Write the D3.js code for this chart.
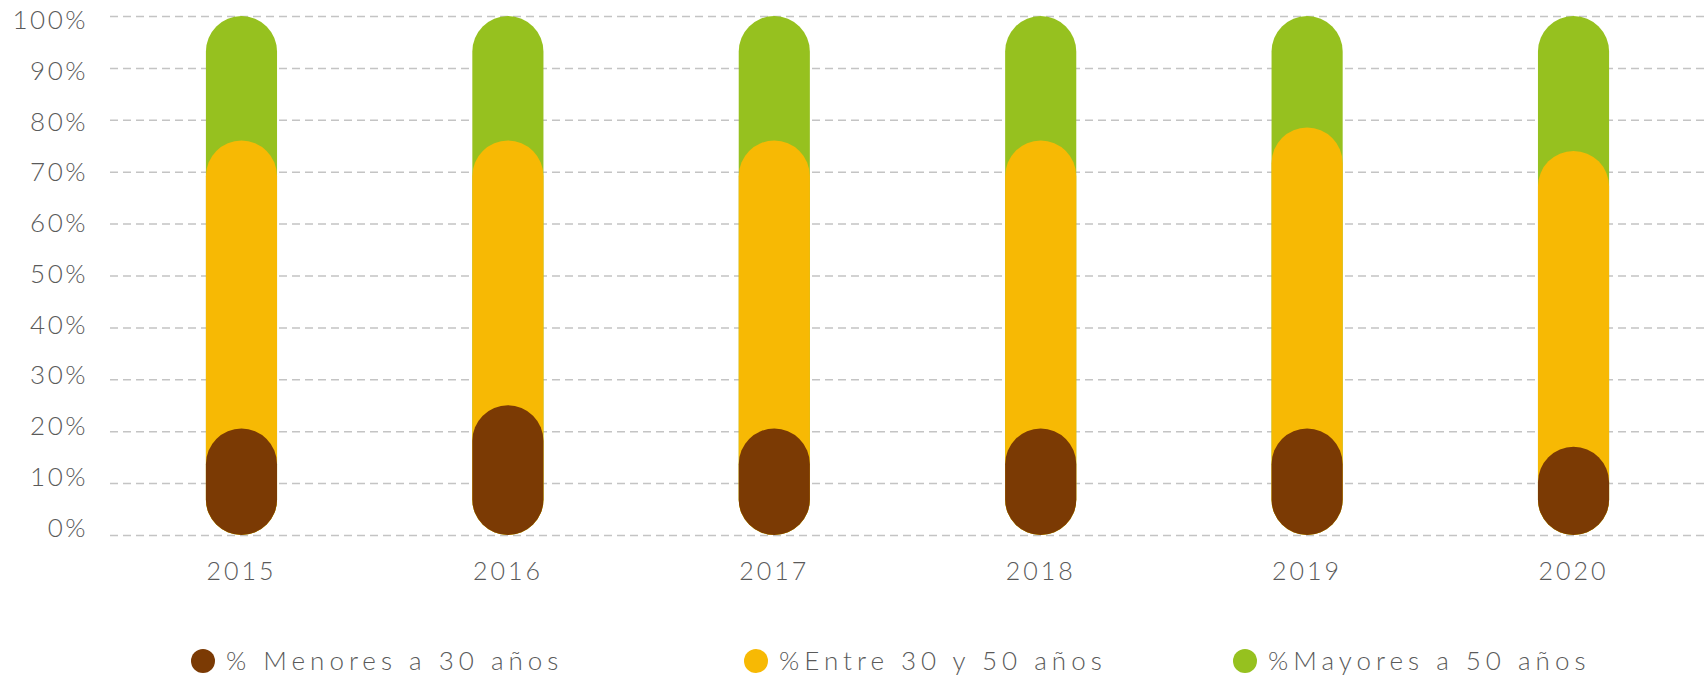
<!DOCTYPE html>
<html>
<head>
<meta charset="utf-8">
<script src="https://cdn.jsdelivr.net/npm/d3@7"></script>
<style>
  body { margin: 0; background: #fff; }
  svg text { font-family: Lato, 'Open Sans', sans-serif; font-weight: 300; fill: #5a5a5a; }
  .grid line { stroke: #c4c4c4; stroke-width: 1.5; stroke-dasharray: 8 5; }
</style>
</head>
<body>
<svg id="chart" width="1705" height="680"></svg>
<script>
'use strict';

var years = ['2015', '2016', '2017', '2018', '2019', '2020'];
var menores = [20.5, 25, 20.5, 20.5, 20.5, 17];
var entre = [55.5, 51, 55.5, 55.5, 58, 57];
var mayores = [24, 24, 24, 24, 21.5, 26];
var seriesNames = ['% Menores a 30 años', '%Entre 30 y 50 años', '%Mayores a 50 años'];
var seriesColors = ['#7b3a04', '#f7b904', '#96c11f'];
var yTicks = [0, 10, 20, 30, 40, 50, 60, 70, 80, 90, 100];

var svg = d3.select('#chart');
var WIDTH = 1705;
var LEFT = 110, TOP = 16, BOTTOM = 535;

var x = d3.scaleBand()
    .domain(years)
    .range([LEFT, WIDTH])
    .paddingInner(0.733)
    .paddingOuter(0.36);
var y = d3.scaleLinear().domain([0, 100]).range([BOTTOM, TOP]);

// y axis + grid (labels sit a little off the lines, as in the original)
var yAxis = d3.axisLeft(y)
    .tickValues(yTicks)
    .tickSize(-(WIDTH - LEFT))
    .tickPadding(22)
    .tickFormat(function(d) { return d + '%'; });
svg.append('g')
    .attr('class', 'grid')
    .attr('transform', 'translate(' + LEFT + ',0)')
    .call(yAxis)
    .call(function(g) { g.select('.domain').remove(); })
    .selectAll('text')
    .style('font-size', '26px')
    .style('letter-spacing', '2.5px')
    .attr('dy', function(d) { return (0.04 + d / 100 * 0.44) + 'em'; });

// x axis
var xAxis = d3.axisBottom(x).tickSize(0).tickPadding(26);
svg.append('g')
    .attr('transform', 'translate(0,' + BOTTOM + ')')
    .call(xAxis)
    .call(function(g) { g.select('.domain').remove(); })
    .selectAll('text')
    .style('font-size', '25px')
    .style('letter-spacing', '3px')
    .attr('dy', '0.75em');

// cumulative tops, drawn back to front
var stacks = years.map(function(yr, i) {
    return [menores[i], menores[i] + entre[i], menores[i] + entre[i] + mayores[i]];
});
var bw = x.bandwidth();
[2, 1, 0].forEach(function(s) {
    svg.append('g')
        .selectAll('rect')
        .data(years)
        .enter().append('rect')
        .attr('x', function(d) { return x(d); })
        .attr('y', function(d, i) { return y(stacks[i][s]); })
        .attr('width', bw)
        .attr('height', function(d, i) { return y(0) - y(stacks[i][s]); })
        .attr('rx', bw / 2)
        .attr('ry', bw / 2)
        .style('fill', seriesColors[s]);
});

// legend
var legendX = [203, 756, 1245];
var legend = svg.append('g')
    .selectAll('g')
    .data(seriesNames)
    .enter().append('g')
    .attr('transform', function(d, i) { return 'translate(' + legendX[i] + ',661)'; });
legend.append('circle')
    .attr('r', 12)
    .style('fill', function(d, i) { return seriesColors[i]; });
legend.append('text')
    .attr('x', 23)
    .attr('dy', '0.35em')
    .style('font-size', '26px')
    .style('letter-spacing', '5px')
    .text(function(d) { return d; });
</script>
</body>
</html>
